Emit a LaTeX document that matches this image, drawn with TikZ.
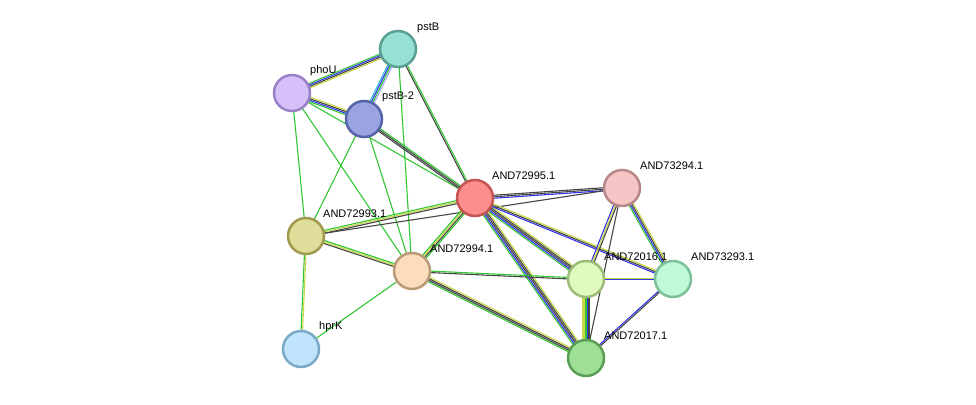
\documentclass[tikz,border=0pt]{standalone}
\usepackage{fontspec}
\setmainfont{Liberation Sans}
\usetikzlibrary{calc,backgrounds}
\definecolor{cg}{HTML}{33C633}
\definecolor{cy}{HTML}{C8D64A}
\definecolor{ck}{HTML}{444444}
\definecolor{cb}{HTML}{3333EE}
\definecolor{cc}{HTML}{33BBDD}
\definecolor{cp}{HTML}{AAAAFF}
\tikzset{
 eg/.style={draw=cg}, ey/.style={draw=cy}, ek/.style={draw=ck},
 eb/.style={draw=cb}, ec/.style={draw=cc}, ep/.style={draw=cp},
 prot/.style={circle,minimum size=36pt,inner sep=0pt,line width=2.5pt},
 lab/.style={anchor=west,font=\fontsize{11}{12}\selectfont,inner sep=0pt}
}
\newcommand\edgeset[4]{%
 \foreach \c [count=\i] in {#4} {%
  \pgfmathsetmacro\off{(\i-(#3+1)/2)*1.5}%
  \draw[\c,line width=1.1pt] ($(#1)!\off pt!90:(#2)$) -- ($(#2)!\off pt!-90:(#1)$);
 }}
\begin{document}
\begin{tikzpicture}[x=1pt,y=-1pt]
\useasboundingbox (0,0) rectangle (976,404);
\def\P#1#2#3#4#5#6{\node[prot,fill={[HTML]#4},draw={[HTML]#5}] (#1) at (#2,#3) {};
 \node[lab] (#1-l) at (#2+18,#3-22) {#6};}
\node[prot,fill={rgb,255:red,151;green,224;blue,212},draw={rgb,255:red,90;green,158;blue,148}] (pstB) at (398,49) {};
\node[prot,fill={rgb,255:red,214;green,192;blue,249},draw={rgb,255:red,154;green,128;blue,199}] (phoU) at (292,93) {};
\node[prot,fill={rgb,255:red,154;green,164;blue,224},draw={rgb,255:red,85;green,99;blue,168}] (pstB2) at (364,119) {};
\node[prot,fill={rgb,255:red,252;green,142;blue,142},draw={rgb,255:red,197;green,85;blue,85}] (a995) at (475,198) {};
\node[prot,fill={rgb,255:red,246;green,198;blue,198},draw={rgb,255:red,184;green,136;blue,136}] (a294) at (622,188) {};
\node[prot,fill={rgb,255:red,222;green,222;blue,154},draw={rgb,255:red,160;green,154;blue,80}] (a993) at (306,236) {};
\node[prot,fill={rgb,255:red,251;green,220;blue,188},draw={rgb,255:red,187;green,154;blue,120}] (a994) at (412,271) {};
\node[prot,fill={rgb,255:red,224;green,251;blue,192},draw={rgb,255:red,156;green,188;blue,120}] (a016) at (586,279) {};
\node[prot,fill={rgb,255:red,191;green,249;blue,216},draw={rgb,255:red,124;green,191;blue,152}] (a293) at (673,279) {};
\node[prot,fill={rgb,255:red,192;green,228;blue,251},draw={rgb,255:red,122;green,170;blue,200}] (hprK) at (301,349) {};
\node[prot,fill={rgb,255:red,157;green,224;blue,150},draw={rgb,255:red,90;green,158;blue,85}] (a017) at (586,358) {};
\node[lab] (l1) at (417,28) {pstB};
\node[lab] (l2) at (310,71) {phoU};
\node[lab] (l3) at (382,97) {pstB-2};
\node[lab] (l4) at (492,176) {AND72995.1};
\node[lab] (l5) at (640,166) {AND73294.1};
\node[lab] (l6) at (323,214) {AND72993.1};
\node[lab] (l7) at (430,249) {AND72994.1};
\node[lab] (l8) at (604,257) {AND72016.1};
\node[lab] (l9) at (691,257) {AND73293.1};
\node[lab] (l10) at (319,327) {hprK};
\node[lab] (l11) at (604,336) {AND72017.1};
\begin{scope}[on background layer]
\edgeset{pstB}{phoU}{4}{eg,eb,ek,ey}
\edgeset{pstB}{pstB2}{4}{ec,eb,eg,ep}
\edgeset{pstB}{a995}{2}{ek,eg}
\edgeset{pstB}{a994}{1}{eg}
\edgeset{phoU}{pstB2}{4}{eg,eb,ek,ey}
\edgeset{phoU}{a995}{1}{eg}
\edgeset{phoU}{a993}{1}{eg}
\edgeset{phoU}{a994}{1}{eg}
\edgeset{pstB2}{a995}{3}{ek,ek,eg}
\edgeset{pstB2}{a993}{1}{eg}
\edgeset{pstB2}{a994}{1}{eg}
\edgeset{a995}{a294}{3}{eb,ek,ek}
\edgeset{a993}{a294}{1}{ek}
\edgeset{a995}{a993}{3}{eg,ey,ek}
\edgeset{a995}{a994}{4}{eg,ey,ek,eg}
\edgeset{a995}{a016}{5}{eg,eb,ek,ek,ey}
\edgeset{a995}{a293}{3}{eb,ek,ey}
\edgeset{a995}{a017}{5}{eg,eb,ek,ek,ey}
\edgeset{a294}{a016}{3}{eb,ey,ek}
\edgeset{a294}{a293}{4}{eg,eb,ek,ey}
\edgeset{a294}{a017}{1}{ek}
\edgeset{a993}{a994}{3}{ek,ey,eg}
\edgeset{a993}{hprK}{2}{eg,ey}
\edgeset{a994}{hprK}{1}{eg}
\edgeset{a994}{a016}{2}{ek,eg}
\edgeset{a994}{a017}{4}{eg,ek,ek,ey}
\edgeset{a016}{a293}{2}{eb,ey}
\edgeset{a016}{a017}{5}{ey,ey,eg,eb,ek}
\edgeset{a293}{a017}{2}{eb,ek}
\end{scope}
\end{tikzpicture}
\end{document}
